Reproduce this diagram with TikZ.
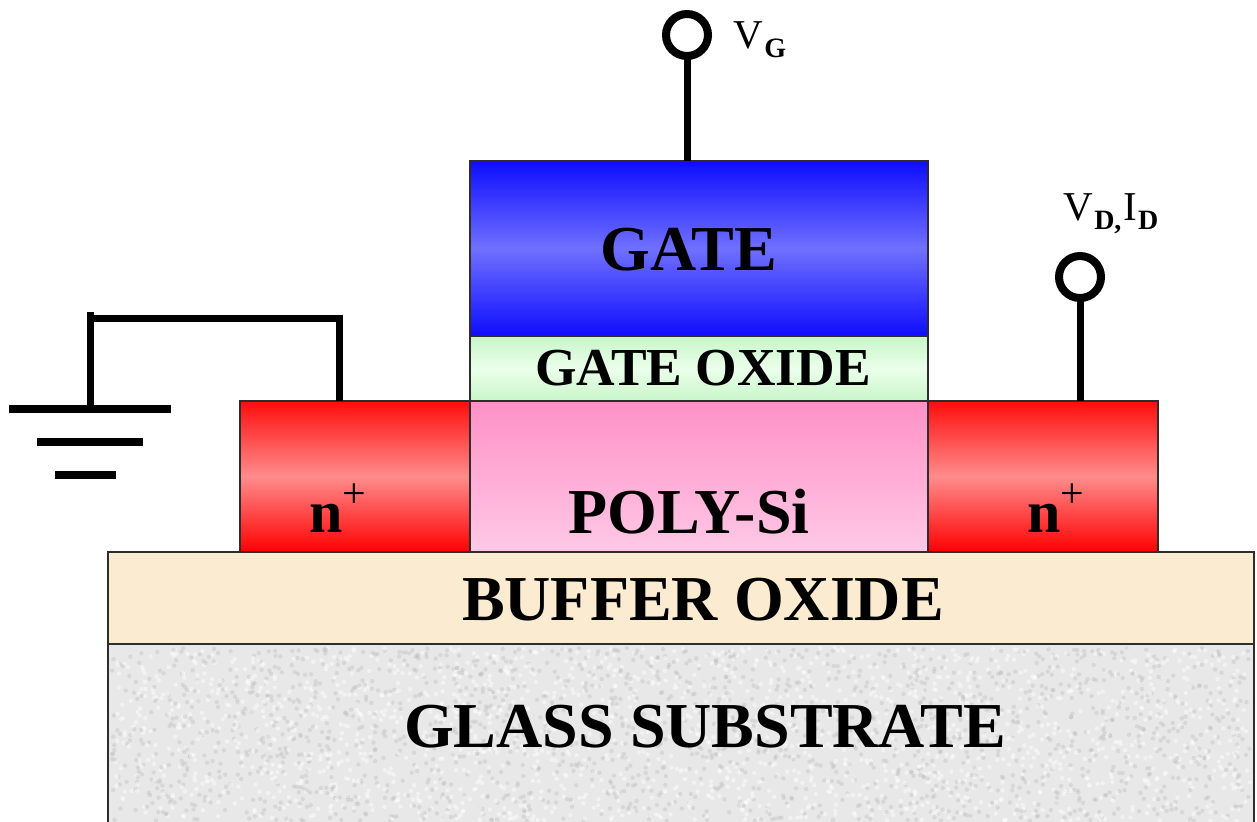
\documentclass[tikz,border=0pt]{standalone}
\usepackage{fontspec}
\setmainfont{Liberation Serif}
\usetikzlibrary{positioning}
\definecolor{frameGray}{RGB}{45,45,45}
\definecolor{bufferTan}{RGB}{250,235,209}
\definecolor{glassGray}{RGB}{232,232,232}
\tikzset{%
  % Specifications for style of nodes:
         layer/.style = {rectangle, draw=frameGray, line width=1pt, outer sep=0pt, inner sep=0pt},
     gateLayer/.style = {layer, minimum width=229pt, minimum height=87.5pt,
                         top color=blue!95!white, bottom color=blue!95!white,
                         middle color={rgb,255:red,112;green,112;blue,255}},
    oxideLayer/.style = {layer, minimum width=229pt, minimum height=32.5pt,
                         top color={rgb,255:red,200;green,245;blue,200},
                         bottom color={rgb,255:red,200;green,245;blue,200},
                         middle color={rgb,255:red,235;green,255;blue,235}},
     polyLayer/.style = {layer, minimum width=229pt, minimum height=75.5pt,
                         top color={rgb,255:red,255;green,145;blue,198},
                         bottom color={rgb,255:red,255;green,200;blue,230}},
   dopedRegion/.style = {layer, minimum width=115pt, minimum height=75.5pt,
                         top color=red!95!white, bottom color=red,
                         middle color={rgb,255:red,255;green,140;blue,140}},
   bufferLayer/.style = {layer, minimum width=573pt, minimum height=46pt, fill=bufferTan},
    glassLayer/.style = {layer, minimum width=573pt, minimum height=100pt, fill=glassGray},
      terminal/.style = {circle, draw=black, line width=4pt, fill=white,
                         minimum size=21pt, inner sep=0pt, outer sep=0pt},
     groundBar/.style = {rectangle, fill=black, inner sep=0pt, outer sep=0pt, minimum height=4pt},
          wire/.style = {line width=3.5pt, black},
     layerText/.style = {font=\fontsize{32}{32}\selectfont\bfseries, inner sep=0pt},
     smallText/.style = {font=\fontsize{26.7}{26.7}\selectfont\bfseries, inner sep=0pt},
     dopedText/.style = {font=\fontsize{30}{30}\selectfont\bfseries, inner sep=0pt},
      termText/.style = {font=\fontsize{20.5}{20.5}\selectfont, inner sep=0pt},
}
\newcommand{\nplus}{n\raisebox{.42em}{\fontsize{21}{21}\selectfont\mdseries +}}
\newcommand{\termsub}[1]{\kern.5pt\raisebox{-.22em}{\fontsize{14}{14}\selectfont\bfseries #1}}
\begin{document}
\begin{tikzpicture}[x=0.5pt,y=-0.5pt]
  \clip (0,0) rectangle (1257,821);
  % Specification of nodes (position, etc.)
  \node (gate) [gateLayer, anchor=north west] at (470,161) {};
  \node (gateOxide) [oxideLayer, below=0pt of gate] {};
  \node (polySi) [polyLayer, below=0pt of gateOxide] {};
  \node (nLeft) [dopedRegion, left=0pt of polySi] {};
  \node (nRight) [dopedRegion, right=0pt of polySi] {};
  \node (bufferOxide) [bufferLayer, anchor=north west] at (108,552) {};
  \node (glass) [glassLayer, below=0pt of bufferOxide] {};
  % speckle of the glass
  \pgfmathsetseed{7}
  \foreach \i in {1,...,1800} {
    \fill[gray!55, opacity=.35] ({112+1138*rnd},{648+173*rnd}) circle (1.1pt);
    \fill[white, opacity=.45] ({112+1138*rnd},{648+173*rnd}) circle (1.1pt);
  }
  % Labels of the layers
  \node (gateText) [layerText] at (689,250) {GATE};
  \node (oxideText) [smallText] at (703,368) {GATE OXIDE};
  \node (polyText) [layerText] at (689,512) {POLY-Si};
  \node (bufferText) [layerText] at (703,600) {BUFFER OXIDE};
  \node (glassText) [layerText] at (705,727) {GLASS SUBSTRATE};
  \node (nLeftText) [dopedText] at (338,508) {\nplus};
  \node (nRightText) [dopedText] at (1056,508) {\nplus};
  % Terminals and ground
  \node (vgTerm) [terminal] at (687,35) {};
  \node (vdTerm) [terminal] at (1080,277) {};
  \node (vgText) [termText] at (760,40) {V\termsub{G}};
  \node (vdText) [termText] at (1111,214) {V\termsub{D,}\kern1pt I\termsub{D}};
  \node (gndBarA) [groundBar, minimum width=81pt] at (90,409) {};
  \node (gndBarB) [groundBar, minimum width=53pt] at (90,442) {};
  \node (gndBarC) [groundBar, minimum width=30.5pt] at (85,475) {};
  \coordinate (gndTop) at (90,312);
  \coordinate (gndCorner) at (90,318);
  \coordinate (gndDrop) at (339,318);
  % Specification of lines between nodes specified above
  \draw[wire] (vgTerm) -- (vgTerm |- gate.north);
  \draw[wire] (vdTerm) -- (vdTerm |- nRight.north);
  \draw[wire] (gndTop) -- (gndBarA);
  \draw[wire] (gndCorner) -- (gndDrop) -- (gndDrop |- nLeft.north);
\end{tikzpicture}
\end{document}
